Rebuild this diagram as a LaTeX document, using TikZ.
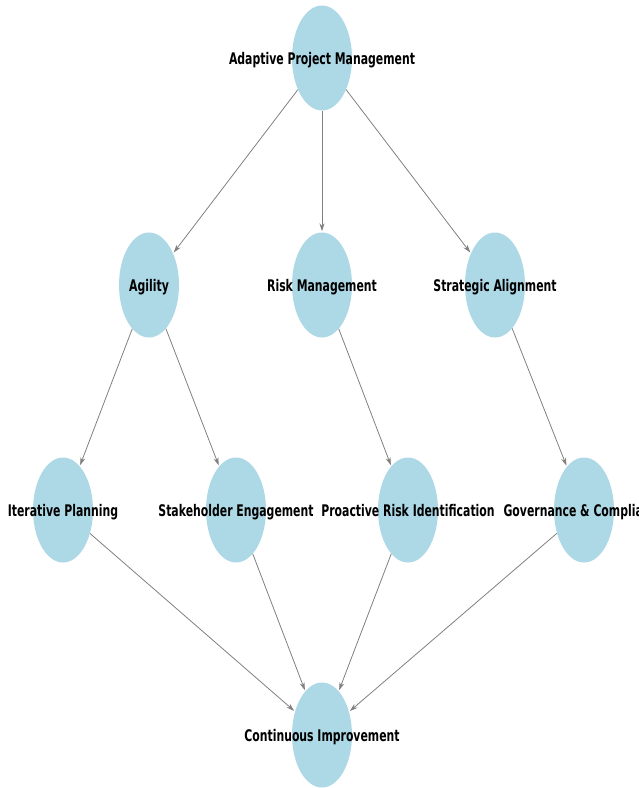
\documentclass[tikz,border=0pt]{standalone}
\usepackage{fontspec}
\setmainfont{DejaVu Sans}[FakeStretch=0.68]
\usetikzlibrary{shapes.geometric,arrows.meta}
\definecolor{nodeblue}{HTML}{ADD8E6}
\definecolor{edgegray}{HTML}{808080}
\tikzset{
  concept/.style={ellipse, fill=nodeblue, minimum width=60pt, minimum height=105pt, inner sep=0pt},
  link/.style={draw=edgegray, line width=0.8pt, -{Stealth[length=8pt,width=5pt]}, shorten >=1pt},
  lbl/.style={font=\fontsize{16pt}{18pt}\selectfont\bfseries, inner sep=0pt, text=black, anchor=base}
}
\begin{document}
\begin{tikzpicture}[x=1pt,y=-1pt]
\useasboundingbox (0,0) rectangle (638,788);
\clip (0,0) rectangle (638,788);
\node[concept] (apm) at (322,58) {};
\node[concept] (agi) at (149,285) {};
\node[concept] (risk) at (322,285) {};
\node[concept] (strat) at (495,285) {};
\node[concept] (iter) at (63,510) {};
\node[concept] (stake) at (236,510) {};
\node[concept] (proact) at (408,510) {};
\node[concept] (gov) at (584,510) {};
\node[concept] (cont) at (322,735) {};
\draw[link] (apm) -- (agi);
\draw[link] (apm) -- (risk);
\draw[link] (apm) -- (strat);
\draw[link] (agi) -- (iter);
\draw[link] (agi) -- (stake);
\draw[link] (risk) -- (proact);
\draw[link] (strat) -- (gov);
\draw[link] (iter) -- (cont);
\draw[link] (stake) -- (cont);
\draw[link] (proact) -- (cont);
\draw[link] (gov) -- (cont);
\node[lbl] (tapm) at ([yshift=-6.5pt]apm.center) {Adaptive Project Management};
\node[lbl] (tagi) at ([yshift=-6.5pt]agi.center) {Agility};
\node[lbl] (trisk) at ([yshift=-6.5pt]risk.center) {Risk Management};
\node[lbl] (tstrat) at ([yshift=-6.5pt]strat.center) {Strategic Alignment};
\node[lbl] (titer) at ([yshift=-6.5pt]iter.center) {Iterative Planning};
\node[lbl] (tstake) at ([yshift=-6.5pt]stake.center) {Stakeholder Engagement};
\node[lbl] (tproact) at ([yshift=-6.5pt]proact.center) {Proactive Risk Identification};
\node[lbl] (tgov) at ([yshift=-6.5pt]gov.center) {Governance \& Compliance};
\node[lbl] (tcont) at ([yshift=-6.5pt]cont.center) {Continuous Improvement};
\end{tikzpicture}
\end{document}
